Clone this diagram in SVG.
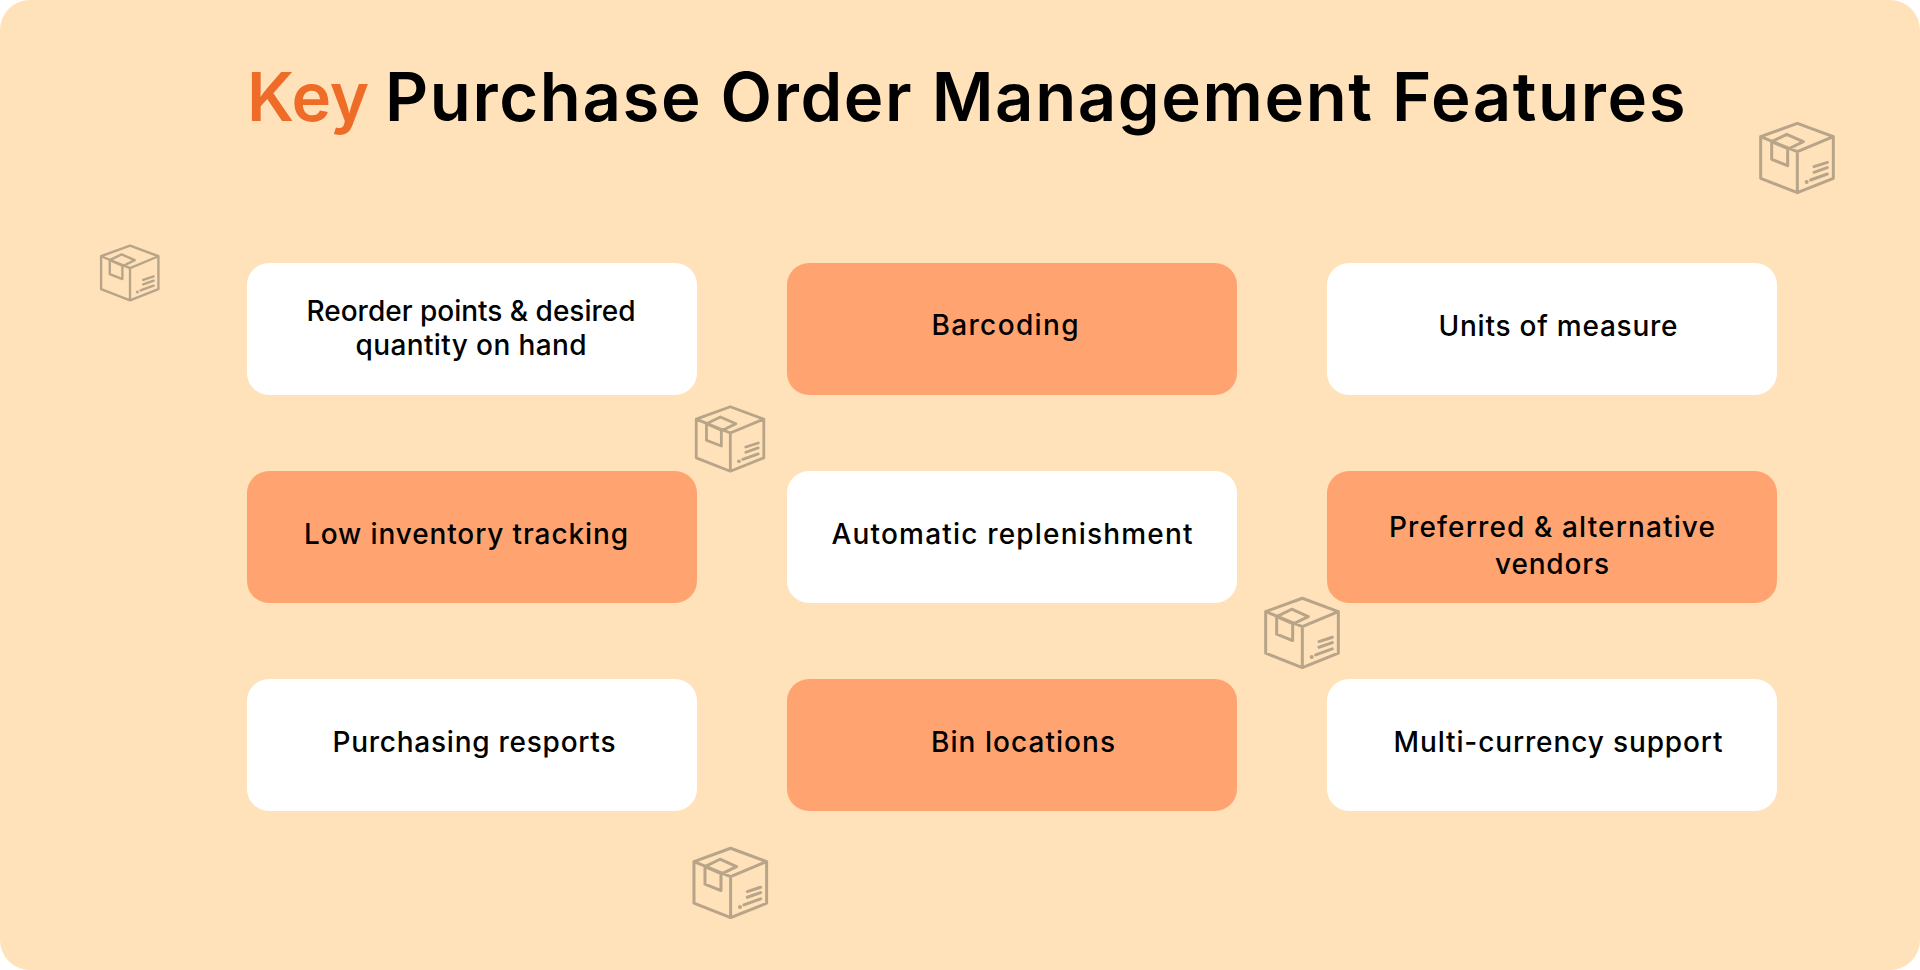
<svg xmlns="http://www.w3.org/2000/svg" width="1920" height="970" viewBox="0 0 1920 970">
<style>
text{font-family:"Inter","Liberation Sans",sans-serif;font-weight:500;fill:#000}
.t{font-size:67px;font-weight:600}
.l{font-size:28px;text-anchor:middle}
.w{fill:#fff}.o{fill:#FFA471}
.b{fill:none;stroke:#B8A488;stroke-width:9;stroke-linejoin:round;stroke-linecap:round}
</style>
<defs>
<g id="box">
<path class="b" d="M232 70L340 110V235L232 278L122 235V110ZM122 110L232 155L340 110M232 155V278M155 125L200 103L250 125L205 147L155 125V178L203 197V147M282 200L322 187M282 217L322 203M272 240L322 222"/>
<circle cx="260" cy="246" r="6" fill="#B8A488"/>
</g>
</defs>
<rect id="bg" width="1920" height="970" rx="30" fill="#FFE2B9"/>
<text id="title" class="t" x="247" y="121"><tspan fill="#EE6C27">Key </tspan><tspan x="385" letter-spacing="1.6">Purchase Order Management Features</tspan></text>
<g id="connectors"/>
<g id="n1"><rect class="w" x="247" y="263" width="450" height="132" rx="22"/><text class="l" x="471" y="321" textLength="329">Reorder points &amp; desired</text><text class="l" x="471" y="355" textLength="231">quantity on hand</text></g>
<g id="n2"><rect class="o" x="787" y="263" width="450" height="132" rx="22"/><text class="l" x="1005" y="335" textLength="147">Barcoding</text></g>
<g id="n3"><rect class="w" x="1327" y="263" width="450" height="132" rx="22"/><text class="l" x="1558" y="336" textLength="239">Units of measure</text></g>
<g id="n4"><rect class="o" x="247" y="471" width="450" height="132" rx="22"/><text class="l" x="466" y="544" textLength="324">Low inventory tracking</text></g>
<g id="n5"><rect class="w" x="787" y="471" width="450" height="132" rx="22"/><text class="l" x="1012" y="544" textLength="361">Automatic replenishment</text></g>
<g id="n6"><rect class="o" x="1327" y="471" width="450" height="132" rx="22"/><text class="l" x="1552" y="537" textLength="326">Preferred &amp; alternative</text><text class="l" x="1552" y="574" textLength="114">vendors</text></g>
<g id="n7"><rect class="w" x="247" y="679" width="450" height="132" rx="22"/><text class="l" x="474" y="752" textLength="283">Purchasing resports</text></g>
<g id="n8"><rect class="o" x="787" y="679" width="450" height="132" rx="22"/><text class="l" x="1023" y="752" textLength="184">Bin locations</text></g>
<g id="n9"><rect class="w" x="1327" y="679" width="450" height="132" rx="22"/><text class="l" x="1558" y="752" textLength="329">Multi-currency support</text></g>
<g id="icons">
<use href="#box" transform="translate(1720 100) scale(.3333)"/>
<use href="#box" transform="translate(69 227.3) scale(.263)"/>
<use href="#box" transform="translate(658.4 385) scale(.31)"/>
<use href="#box" transform="translate(1225 574.9) scale(.3333)"/>
<use href="#box" transform="translate(653.3 824.9) scale(.3333)"/>
</g>
</svg>
